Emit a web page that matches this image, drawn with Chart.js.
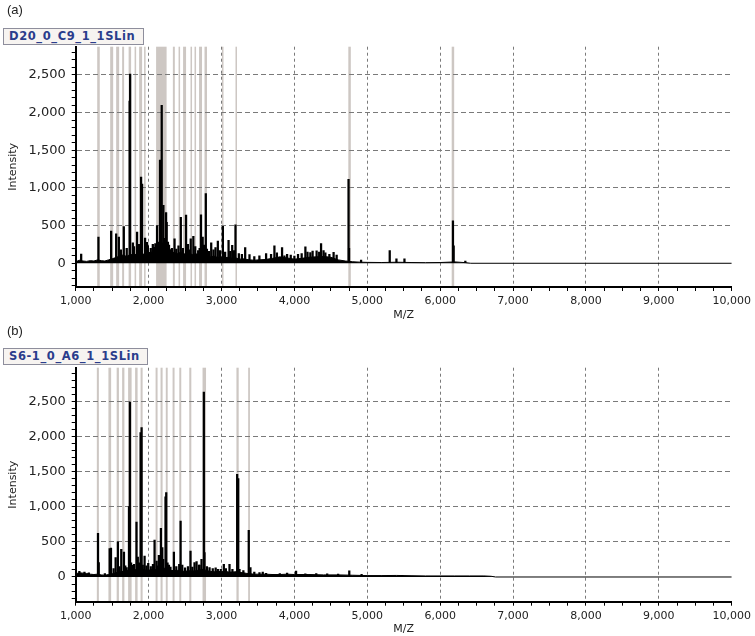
<!DOCTYPE html>
<html>
<head>
<meta charset="utf-8">
<script src="https://cdn.jsdelivr.net/npm/chart.js@4.4.0/dist/chart.umd.min.js"></script>
<style>
  html, body { margin: 0; padding: 0; background: #fff; }
  #wrap { position: relative; width: 755px; height: 636px; overflow: hidden; }
  .panel { position: absolute; left: 0; width: 755px; }
  #panelA { top: 0; height: 322px; }
  #panelB { top: 321px; height: 315px; }
  .tag { position: absolute; left: 7px; font: 13px "Liberation Sans", Arial, sans-serif; color: #222; }
  .name {
    position: absolute; left: 3px; height: 15px; line-height: 15px; padding: 0 5px;
    border: 1px solid #8e8e9c; background: #f7f4f1;
    font: bold 11.5px "DejaVu Sans", sans-serif; letter-spacing: 0.6px;
    color: #2a3d8c; white-space: nowrap;
  }
</style>
</head>
<body>
<div id="wrap">
  <div class="panel" id="panelA"><canvas id="chartA"></canvas></div>
  <div class="panel" id="panelB"><canvas id="chartB"></canvas></div>
  <div class="tag" style="top:2px">(a)</div>
  <div class="name" style="top:28px; width:129px">D20_0_C9_1_1SLin</div>
  <div class="tag" style="top:323px">(b)</div>
  <div class="name" style="top:348px; width:133px">S6-1_0_A6_1_1SLin</div>
</div>
<script>
// spectrum (a) - baseline "grass" level read every 50/100 m/z
const grassA_mz = [
  1000,1050,1100,1150,1200,1250,1300,1350,1400,1450,
  1500,1550,1600,1650,1700,1750,1800,1850,1900,1950,
  2000,2050,2100,2150,2200,2250,2300,2350,2400,2450,
  2500,2550,2600,2650,2700,2750,2800,2850,2900,2950,
  3000,3050,3100,3150,3200,3250,3300,3350,3400,3450,
  3500,3600,3700,3800,3900,4000,4100,4200,4300,4400,
  4500,4600,4700,4800,4900,5000,5200,5400,5600,5800,
  6000,6200,6350,6420,10000
];
const grassA_int = [
  20,40,30,25,35,30,45,35,30,45,
  60,75,95,110,90,120,105,135,115,125,
  140,150,175,240,270,220,165,140,130,150,
  120,135,115,125,110,130,100,85,95,75,
  85,75,80,65,70,55,60,50,45,40,
  45,50,65,85,70,55,65,80,85,90,
  80,45,30,20,15,12,10,14,10,8,
  10,18,8,0,0
];
// spectrum (a) - peaks
const peaksA_mz = [
  1075,1312,1486,1555,1592,1620,1660,1700,1740,1747,
  1784,1800,1842,1870,1897,1911,1952,1979,1990,2030,
  2058,2075,2093,2116,2135,2157,2170,2180,2203,2215,
  2240,2248,2265,2280,2299,2320,2356,2380,2410,2442,
  2470,2514,2540,2560,2578,2614,2640,2680,2700,2719,
  2742,2760,2785,2800,2830,2859,2890,2918,2950,2980,
  3019,3050,3097,3120,3147,3170,3192,3238,3280,3325,
  3384,3450,3520,3612,3680,3726,3760,3831,3863,3900,
  3950,4000,4050,4100,4151,4180,4219,4250,4305,4340,
  4366,4400,4425,4480,4538,4580,4743,4750,4915,5308,
  5400,5510,6175,6185,6345
];
const peaksA_int = [
  122,348,426,391,348,180,487,200,2152,2513,
  270,220,413,250,1143,1052,335,278,230,200,
  252,210,260,500,280,1370,350,2096,770,330,
  674,543,280,240,183,200,326,190,230,609,
  200,639,250,180,326,357,220,170,200,643,
  348,240,925,190,160,270,180,209,296,170,
  491,150,304,160,239,170,509,130,120,209,
  117,90,100,130,120,230,140,209,100,120,
  110,96,120,130,217,150,143,161,165,150,
  261,170,139,120,146,110,1115,200,44,168,
  60,60,562,230,30
];
// marked m/z windows (a)
const bandsA = [
  [1295,1330],[1473,1514],[1555,1596],[1637,1664],[1726,1760],[1808,1829],
  [1870,1911],[1938,1959],[2103,2247],[2333,2360],[2411,2432],[2473,2514],
  [2575,2596],[2630,2651],[2692,2733],[2767,2801],[3007,3027],[3192,3212],
  [4740,4774],[6158,6192]
];

// spectrum (b)
const grassB_mz = [
  1000,1050,1100,1150,1200,1250,1300,1350,1400,1450,
  1500,1550,1600,1650,1700,1750,1800,1850,1900,1950,
  2000,2050,2100,2150,2200,2250,2300,2350,2400,2450,
  2500,2550,2600,2650,2700,2750,2800,2850,2900,2950,
  3000,3050,3100,3150,3200,3250,3300,3350,3400,3450,
  3500,3600,3700,3800,3900,4000,4200,4400,4600,4800,
  5000,5200,5400,5600,5800,6000,6200,6400,6600,6700,
  6760,10000
];
const grassB_int = [
  45,60,55,50,40,35,40,30,25,35,
  45,60,70,80,90,110,100,110,120,100,
  95,110,105,120,130,115,95,90,95,85,
  80,90,85,90,100,110,90,80,75,80,
  75,80,70,70,75,65,60,50,45,40,
  40,40,35,35,40,35,35,30,30,25,
  20,20,22,18,15,15,15,15,15,10,
  0,0
];
const peaksB_mz = [
  1050,1120,1180,1306,1316,1400,1466,1484,1520,1548,
  1579,1600,1625,1662,1680,1699,1731,1744,1760,1776,
  1800,1834,1852,1870,1890,1904,1920,1945,1970,1995,
  2030,2060,2082,2110,2130,2141,2169,2188,2200,2232,
  2242,2260,2279,2300,2347,2380,2420,2439,2462,2500,
  2540,2575,2600,2630,2658,2690,2700,2726,2758,2767,
  2800,2836,2880,2920,2950,2990,3032,3060,3110,3150,
  3215,3230,3247,3300,3374,3397,3450,3521,3566,3612,
  3703,3800,3900,4023,4150,4300,4450,4600,4753,4922,
  5287,5480
];
const peaksB_int = [
  80,70,60,622,204,50,404,413,120,275,
  499,150,394,356,160,133,1002,2493,200,166,
  180,783,285,200,2056,2127,170,299,160,195,
  150,180,527,228,160,309,693,418,250,1140,
  1201,200,171,140,356,150,180,798,171,130,
  150,370,140,204,218,171,170,252,2635,347,
  150,133,120,130,109,110,180,120,180,110,
  1462,1400,109,90,665,133,70,62,71,52,
  38,50,55,85,45,50,45,40,86,38,
  25,25
];
const bandsB = [
  [1290,1318],[1449,1486],[1562,1593],[1637,1668],[1719,1767],[1815,1849],
  [1890,1918],[2096,2123],[2164,2192],[2236,2262],[2329,2356],[2421,2448],
  [2558,2586],[2740,2788],[3205,3236],[3366,3390]
];

const xMajor = 1000;
const yMajor = 500;
const yMinor = 100;

Chart.defaults.font.family = '"DejaVu Sans", sans-serif';

// grey windows behind the grid
const bandPlugin = {
    id: 'bands',
    beforeDraw(chart, args, opts) {
        const { ctx, chartArea, scales } = chart;
        const x = scales.x;
        ctx.save();
        ctx.fillStyle = opts.color;
        opts.list.forEach(function (b) {
            const x1 = x.getPixelForValue(b[0]);
            const x2 = x.getPixelForValue(b[1]);
            ctx.fillRect(x1, chartArea.top, Math.max(x2 - x1, 1.5), chartArea.bottom - chartArea.top);
        });
        ctx.restore();
    }
};

function draw_spectrum(canvasId, grassMz, grassInt, peakMz, peakInt, bands, yMin, yMax, padTop, xHeight) {
    const ctx = document.getElementById(canvasId).getContext('2d');

    new Chart(ctx, {
        type: 'bar',
        data: {
            datasets: [
                {
                    type: 'line',
                    data: grassMz.map((m, i) => ({ x: m, y: grassInt[i] })),
                    borderColor: '#000',
                    backgroundColor: '#000',
                    borderWidth: 1,
                    pointRadius: 0,
                    tension: 0,
                    fill: 'origin'
                },
                {
                    type: 'bar',
                    data: peakMz.map((m, i) => ({ x: m, y: peakInt[i] })),
                    backgroundColor: '#000',
                    borderWidth: 0,
                    barThickness: 1.6
                }
            ]
        },
        options: {
            responsive: true,
            maintainAspectRatio: false,
            animation: false,
            layout: { padding: { top: padTop, right: 22.3, bottom: 0, left: 0 } },
            plugins: {
                legend: { display: false },
                tooltip: { enabled: false },
                bands: { list: bands, color: '#cdc7c3' }
            },
            scales: {
                x: {
                    type: 'linear',
                    min: 1000,
                    max: 10000,
                    offset: false,
                    ticks: {
                        stepSize: 250,
                        maxTicksLimit: 1000,
                        autoSkip: false,
                        maxRotation: 0,
                        padding: 4,
                        color: '#222',
                        font: { size: 11 },
                        callback: function (value) {
                            return value % xMajor === 0 ? value.toLocaleString('en-US') : '';
                        }
                    },
                    grid: {
                        offset: false,
                        lineWidth: 1,
                        tickLength: 4,
                        tickColor: '#000',
                        color: function (c) {
                            const v = c.tick ? c.tick.value : 0;
                            return (v % xMajor === 0 && v > 1000 && v < 10000) ? '#7a7a7a' : 'rgba(0,0,0,0)';
                        }
                    },
                    border: { display: true, color: '#000', width: 2, dash: [3, 3] },
                    title: { display: true, text: 'M/Z', color: '#222', font: { size: 11 }, padding: { top: 0, bottom: 0 } },
                    afterFit: function (scale) { scale.height = xHeight; }
                },
                y: {
                    min: yMin,
                    max: yMax,
                    // one tick every 100, labels every 500
                    afterBuildTicks: function (scale) {
                        const list = [];
                        for (let v = Math.ceil(yMin / yMinor) * yMinor; v <= yMax; v += yMinor) list.push({ value: v });
                        scale.ticks = list;
                    },
                    ticks: {
                        autoSkip: false,
                        padding: 6,
                        color: '#222',
                        font: { size: 13 },
                        callback: function (value) {
                            return (value >= 0 && value % yMajor === 0) ? value.toLocaleString('en-US') : '';
                        }
                    },
                    grid: {
                        lineWidth: 1,
                        tickLength: 4,
                        tickColor: '#000',
                        color: function (c) {
                            const v = c.tick ? c.tick.value : 0;
                            return (v > 0 && v % yMajor === 0) ? '#7a7a7a' : 'rgba(0,0,0,0)';
                        }
                    },
                    border: { display: true, color: '#000', width: 2, dash: [5, 3] },
                    title: { display: true, text: 'Intensity', color: '#222', font: { size: 11 }, padding: { top: 7, bottom: 0 } },
                    afterFit: function (scale) { scale.width = 75.7; }
                }
            }
        },
        plugins: [bandPlugin]
    });
}

draw_spectrum('chartA', grassA_mz, grassA_int, peaksA_mz, peaksA_int, bandsA, -315, 2875, 46.7, 35);
draw_spectrum('chartB', grassB_mz, grassB_int, peaksB_mz, peaksB_int, bandsB, -352, 2981, 46.7, 34.3);
</script>
</body>
</html>
